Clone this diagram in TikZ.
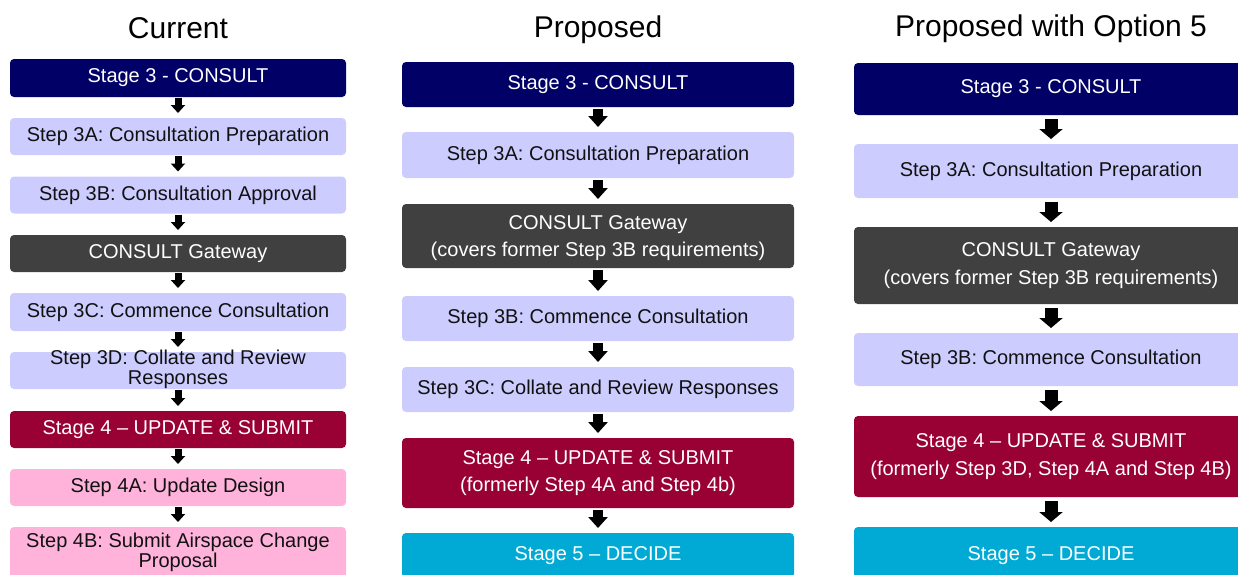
\documentclass[tikz,border=0pt]{standalone}
\usepackage{fontspec}
\setmainfont{Liberation Sans}
\usetikzlibrary{arrows.meta}

\definecolor{stagenavy}{HTML}{000066}
\definecolor{steplav}{HTML}{CCCCFF}
\definecolor{gategray}{HTML}{404040}
\definecolor{stagemaroon}{HTML}{990033}
\definecolor{steppink}{HTML}{FFB3DB}
\definecolor{stagecyan}{HTML}{00AAD4}
\definecolor{inkdark}{HTML}{111111}

\begin{document}
\begin{tikzpicture}[x=1pt,y=-1pt,
  box/.style={rounded corners=4pt, inner sep=0pt, outer sep=0pt, draw=none},
  col1/.style={minimum width=336pt},
  col2/.style={minimum width=392pt},
  col3/.style={minimum width=394pt},
  navybox/.style={box, fill=stagenavy},
  lavbox/.style={box, fill=steplav},
  graybox/.style={box, fill=gategray},
  maroonbox/.style={box, fill=stagemaroon},
  pinkbox/.style={box, fill=steppink},
  cyanbox/.style={box, fill=stagecyan},
  lbl/.style={font=\fontsize{20}{23}\selectfont, align=center, inner sep=0pt, text=inkdark},
  wlbl/.style={lbl, text=white},
  lbltight/.style={lbl, font=\fontsize{20}{20}\selectfont},
  wlblB/.style={wlbl, font=\fontsize{20}{27}\selectfont},
  wlblC/.style={wlbl, font=\fontsize{20}{28}\selectfont},
  title/.style={font=\fontsize{30}{34}\selectfont, anchor=base, inner sep=0pt, text=black},
  flowA/.style={line width=7pt, -{Triangle[width=14pt,length=8pt]}, shorten <=1pt, shorten >=5pt},
  flowB/.style={line width=10pt, -{Triangle[width=19pt,length=11pt]}, shorten <=2pt, shorten >=5pt},
  flowC/.style={line width=13pt, -{Triangle[width=23pt,length=10pt]}, shorten <=4pt, shorten >=5pt},
]
\useasboundingbox (0,0) rectangle (1238,574);
\clip (0,0) rectangle (1238,574);

% ---------- column titles ----------
\node[title] (t1) at (178,38) {Current};
\node[title] (t2) at (598,37) {Proposed};
\node[title] (t3) at (1051,36) {Proposed with Option 5};

% ---------- current process ----------
\node[navybox, col1, minimum height=38pt] (c1a) at (178,78) {};
\node[lavbox, col1, minimum height=37pt] (c1b) at (178,136.5) {};
\node[lavbox, col1, minimum height=37pt] (c1c) at (178,195) {};
\node[graybox, col1, minimum height=37pt] (c1d) at (178,253.5) {};
\node[lavbox, col1, minimum height=38pt] (c1e) at (178,312) {};
\node[lavbox, col1, minimum height=37pt] (c1f) at (178,370.5) {};
\node[maroonbox, col1, minimum height=37pt] (c1g) at (178,429.5) {};
\node[pinkbox, col1, minimum height=37pt] (c1h) at (178,487.5) {};
\node[pinkbox, col1, minimum height=58pt] (c1i) at (178,556) {};

\node[wlbl] (c1aT) at (c1a) {Stage 3 - CONSULT};
\node[lbl] (c1bT) at (c1b) {Step 3A: Consultation Preparation};
\node[lbl] (c1cT) at (c1c) {Step 3B: Consultation Approval};
\node[wlbl] (c1dT) at (c1d) {CONSULT Gateway};
\node[lbl] (c1eT) at (c1e) {Step 3C: Commence Consultation};
\node[lbltight] (c1fT) at ([yshift=1.5pt]c1f.center) {Step 3D: Collate and Review\\Responses};
\node[wlbl] (c1gT) at (c1g) {Stage 4 -- UPDATE \& SUBMIT};
\node[lbl] (c1hT) at (c1h) {Step 4A: Update Design};
\node[lbltight] (c1iT) at (178,552) {Step 4B: Submit Airspace Change\\Proposal};

\draw[flowA] (c1a.south) -- (c1b.north);
\draw[flowA] (c1b.south) -- (c1c.north);
\draw[flowA] (c1c.south) -- (c1d.north);
\draw[flowA] (c1d.south) -- (c1e.north);
\draw[flowA] (c1e.south) -- (c1f.north);
\draw[flowA] (c1f.south) -- (c1g.north);
\draw[flowA] (c1g.south) -- (c1h.north);
\draw[flowA] (c1h.south) -- (c1i.north);

% ---------- proposed process ----------
\node[navybox, col2, minimum height=45pt] (c2a) at (598,84.5) {};
\node[lavbox, col2, minimum height=46pt] (c2b) at (598,155) {};
\node[graybox, col2, minimum height=64pt] (c2c) at (598,236) {};
\node[lavbox, col2, minimum height=45pt] (c2d) at (598,318.5) {};
\node[lavbox, col2, minimum height=45pt] (c2e) at (598,389.5) {};
\node[maroonbox, col2, minimum height=70pt] (c2f) at (598,473) {};
\node[cyanbox, col2, minimum height=45pt] (c2g) at (598,555.5) {};

\node[wlbl] (c2aT) at (c2a) {Stage 3 - CONSULT};
\node[lbl] (c2bT) at (c2b) {Step 3A: Consultation Preparation};
\node[wlblB] (c2cT) at ([yshift=-2pt]c2c.center) {CONSULT Gateway\\(covers former Step 3B requirements)};
\node[lbl] (c2dT) at (c2d) {Step 3B: Commence Consultation};
\node[lbl] (c2eT) at (c2e) {Step 3C: Collate and Review Responses};
\node[wlblB] (c2fT) at (c2f) {Stage 4 -- UPDATE \& SUBMIT\\(formerly Step 4A and Step 4b)};
\node[wlbl] (c2gT) at (c2g) {Stage 5 -- DECIDE};

\draw[flowB] (c2a.south) -- (c2b.north);
\draw[flowB] (c2b.south) -- (c2c.north);
\draw[flowB] (c2c.south) -- (c2d.north);
\draw[flowB] (c2d.south) -- (c2e.north);
\draw[flowB] (c2e.south) -- (c2f.north);
\draw[flowB] (c2f.south) -- (c2g.north);

% ---------- proposed process with option 5 ----------
\node[navybox, col3, minimum height=52pt] (c3a) at (1051,89) {};
\node[lavbox, col3, minimum height=54pt] (c3b) at (1051,171) {};
\node[graybox, col3, minimum height=77pt] (c3c) at (1051,265.5) {};
\node[lavbox, col3, minimum height=53pt] (c3d) at (1051,359.5) {};
\node[maroonbox, col3, minimum height=81pt] (c3e) at (1051,456.5) {};
\node[cyanbox, col3, minimum height=53pt] (c3f) at (1051,553.5) {};

\node[wlbl] (c3aT) at (c3a) {Stage 3 - CONSULT};
\node[lbl] (c3bT) at (c3b) {Step 3A: Consultation Preparation};
\node[wlblC] (c3cT) at (c3c) {CONSULT Gateway\\(covers former Step 3B requirements)};
\node[lbl] (c3dT) at (c3d) {Step 3B: Commence Consultation};
\node[wlblC] (c3eT) at (c3e) {Stage 4 -- UPDATE \& SUBMIT\\(formerly Step 3D, Step 4A and Step 4B)};
\node[wlbl] (c3fT) at ([yshift=-2pt]c3f.center) {Stage 5 -- DECIDE};

\draw[flowC] (c3a.south) -- (c3b.north);
\draw[flowC] (c3b.south) -- (c3c.north);
\draw[flowC] (c3c.south) -- (c3d.north);
\draw[flowC] (c3d.south) -- (c3e.north);
\draw[flowC] (c3e.south) -- (c3f.north);
\end{tikzpicture}
\end{document}
